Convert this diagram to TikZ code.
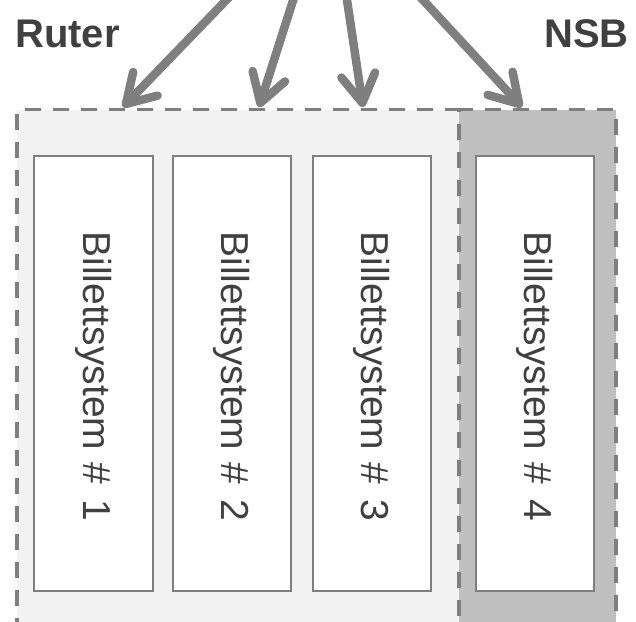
\documentclass[tikz,border=0pt]{standalone}
\usepackage{fontspec}
\setmainfont{Liberation Sans}
\usetikzlibrary{arrows.meta}
\definecolor{linegray}{HTML}{7F7F7F}
\definecolor{textgray}{HTML}{404040}
\definecolor{lightfill}{HTML}{F2F2F2}
\definecolor{darkfill}{HTML}{BFBFBF}
\newcommand{\systext}[1]{Billettsystem\hspace{12.5bp}\#\hspace{15.5bp}#1}
\begin{document}
\begin{tikzpicture}[x=1bp,y=-1bp,
  group/.style={draw=linegray, line width=3.5bp, dash pattern=on 16bp off 12bp, inner sep=0, anchor=north west},
  sysbox/.style={draw=linegray, fill=white, line width=2bp, minimum width=118bp, minimum height=435bp, inner sep=0},
  grouplabel/.style={text=textgray, font=\fontsize{40bp}{44bp}\selectfont\bfseries, inner sep=0},
  syslabel/.style={text=textgray, font=\fontsize{39bp}{44bp}\selectfont, rotate=-90, inner sep=0},
  feed/.style={draw=linegray, line width=8.5bp, -{Straight Barb[length=28bp,width=34bp,round]}}]
\useasboundingbox (0,0) rectangle (636,622);
\clip (0,0) rectangle (636,622);
% group areas
\node[group, fill=lightfill, minimum width=442bp, minimum height=540bp] (ruterarea) at (15,108) {};
\node[group, fill=darkfill, minimum width=157bp, minimum height=540bp] (nsbarea) at (457,108) {};
% group labels
\node[grouplabel, anchor=base west] (ruter) at (15,48) {Ruter};
\node[grouplabel, anchor=base east] (nsb) at (629,48) {NSB};
% systems
\node[sysbox] (sys1) at (93.5,373.5) {};
\node[sysbox] (sys2) at (231.5,373.5) {};
\node[sysbox] (sys3) at (371.5,373.5) {};
\node[sysbox] (sys4) at (535,373.5) {};
\node[syslabel] (lab1) at ([yshift=-3bp]sys1.center) {\systext{1}};
\node[syslabel] (lab2) at ([yshift=-3bp]sys2.center) {\systext{2}};
\node[syslabel] (lab3) at ([yshift=-3bp]sys3.center) {\systext{3}};
\node[syslabel] (lab4) at ([yshift=-3bp]sys4.center) {\systext{4}};
% arrows
\coordinate (s1) at (265,-40);
\coordinate (s2) at (306,-40);
\coordinate (s3) at (341,-40);
\coordinate (s4) at (386,-40);
\coordinate (t1) at (123,107);
\coordinate (t2) at (259,107);
\coordinate (t3) at (363,107);
\coordinate (t4) at (522,107);
\draw[feed] (s1) -- (t1);
\draw[feed] (s2) -- (t2);
\draw[feed] (s3) -- (t3);
\draw[feed] (s4) -- (t4);
\end{tikzpicture}
\end{document}
